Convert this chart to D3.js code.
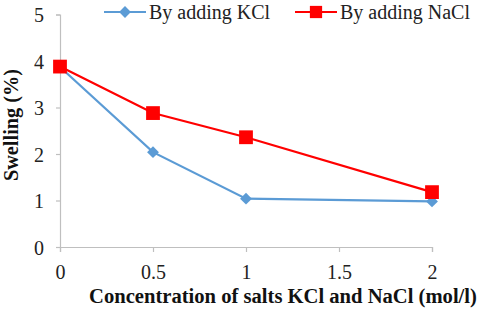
<!DOCTYPE html>
<html><head><meta charset="utf-8">
<script src="https://cdn.jsdelivr.net/npm/d3@7"></script>
</head><body style="margin:0">
<svg id="c" width="480" height="309"></svg>
<script>
const concentrations = [0, 0.5, 1, 2];
const kclValues = [3.87, 2.04, 1.04, 0.98];
const naclValues = [3.88, 2.88, 2.36, 1.18];
const xTicks = [0, 0.5, 1, 1.5, 2];
const yTicks = [0, 1, 2, 3, 4, 5];
const seriesNames = ["By adding KCl", "By adding NaCl"];

const FONT = "Liberation Serif";
const svg = d3.select("#c");
const x = d3.scaleLinear().domain([0, 2]).range([60, 432]);
const y = d3.scaleLinear().domain([0, 5]).range([247, 14.5]);
const axisColor = "#bfbfbf";

const ya = svg.append("g").attr("transform", "translate(60,0)")
  .call(d3.axisLeft(y).tickValues(yTicks).tickSize(4).tickPadding(12).tickFormat(d3.format("d")));
const xa = svg.append("g").attr("transform", "translate(0,247)")
  .call(d3.axisBottom(x).tickValues(xTicks).tickSize(5).tickPadding(13).tickFormat(d => d));
[ya, xa].forEach(g => {
  g.attr("font-family", null).attr("font-size", null);
  g.select(".domain").attr("stroke", axisColor).attr("stroke-width", 1.2);
  g.selectAll(".tick line").attr("stroke", axisColor).attr("stroke-width", 1.2);
  g.selectAll("text").attr("fill", "#222").attr("font-size", 20).style("font-family", FONT);
});
ya.selectAll("text").attr("dy", "0.36em");

const line = d3.line().x(d => x(d[0])).y(d => y(d[1]));
const kcl = concentrations.map((c, i) => [c, kclValues[i]]);
const nacl = concentrations.map((c, i) => [c, naclValues[i]]);

svg.append("path").datum(kcl).attr("d", line).attr("fill", "none").attr("stroke", "#5b9bd5").attr("stroke-width", 2.2);
svg.append("path").datum(nacl).attr("d", line).attr("fill", "none").attr("stroke", "#ff0000").attr("stroke-width", 2.2);

const diamond = d3.symbol().type(d3.symbolSquare).size(70);
svg.selectAll(".dk").data(kcl).enter().append("path")
  .attr("d", diamond)
  .attr("transform", d => `translate(${x(d[0])},${y(d[1])}) rotate(45)`)
  .attr("fill", "#5b9bd5");
const sq = d3.symbol().type(d3.symbolSquare).size(190);
svg.selectAll(".sn").data(nacl).enter().append("path")
  .attr("d", sq)
  .attr("transform", d => `translate(${x(d[0])},${y(d[1])})`)
  .attr("fill", "#ff0000");

svg.append("line").attr("x1", 104).attr("x2", 146).attr("y1", 12).attr("y2", 12).attr("stroke", "#5b9bd5").attr("stroke-width", 2.2);
svg.append("path").attr("d", diamond).attr("transform", "translate(125,12) rotate(45)").attr("fill", "#5b9bd5");
svg.append("text").attr("x", 149).attr("y", 19).attr("font-size", 20).attr("fill", "#222").style("font-family", FONT).text(seriesNames[0]);
svg.append("line").attr("x1", 295).attr("x2", 337).attr("y1", 12).attr("y2", 12).attr("stroke", "#ff0000").attr("stroke-width", 2.2);
svg.append("path").attr("d", d3.symbol().type(d3.symbolSquare).size(150)).attr("transform", "translate(316,12)").attr("fill", "#ff0000");
svg.append("text").attr("x", 340).attr("y", 19).attr("font-size", 20).attr("fill", "#222").style("font-family", FONT).text(seriesNames[1]);

svg.append("text").attr("x", 283).attr("y", 303).attr("text-anchor", "middle")
  .attr("font-size", 20.6).attr("font-weight", "bold").attr("fill", "#111").style("font-family", FONT)
  .text("Concentration of salts KCl and NaCl (mol/l)");
svg.append("text").attr("transform", "translate(18,125) rotate(-90)").attr("text-anchor", "middle")
  .attr("font-size", 20.3).attr("font-weight", "bold").attr("fill", "#111").style("font-family", FONT)
  .text("Swelling (%)");
</script>
</body></html>
